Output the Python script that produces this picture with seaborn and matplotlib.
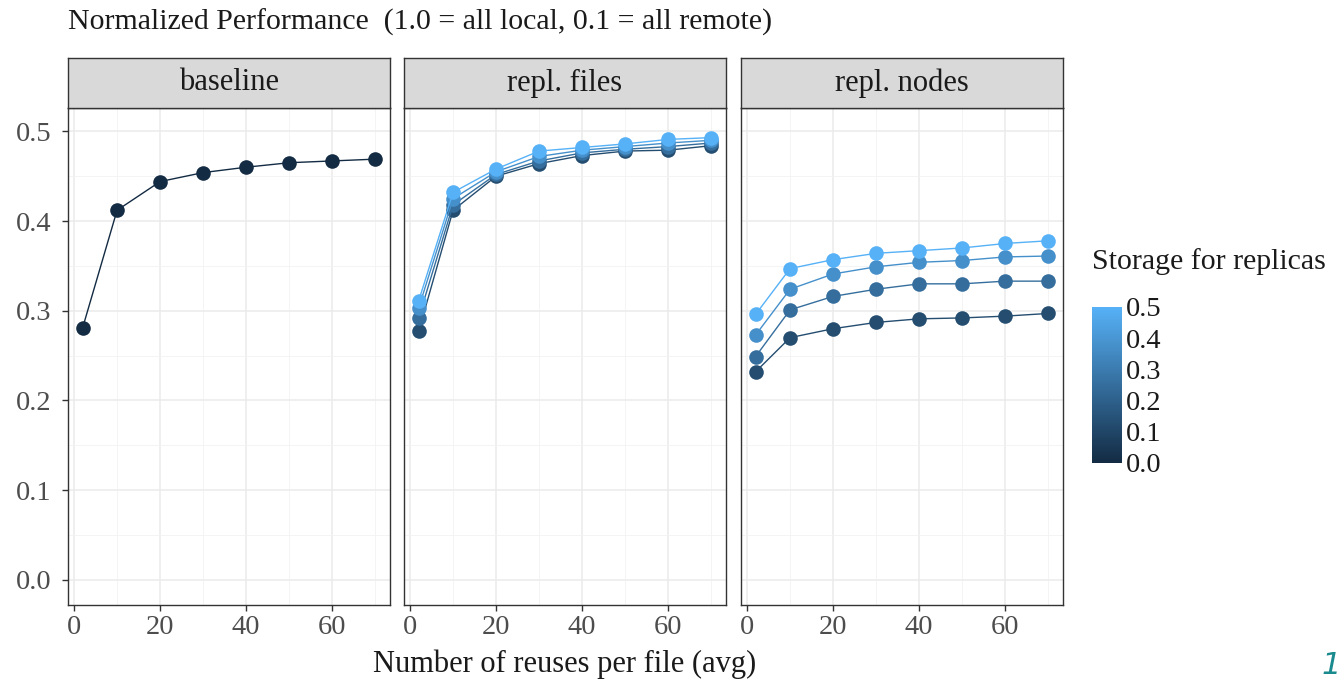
import numpy as np
import pandas as pd
import matplotlib
matplotlib.use('Agg')
import matplotlib.pyplot as plt
import seaborn as sns
from matplotlib.colors import LinearSegmentedColormap, Normalize
from matplotlib.ticker import MultipleLocator

# data
reuses = [2, 10, 20, 30, 40, 50, 60, 70]
panels = ['baseline', 'repl. files', 'repl. nodes']
storage_levels = [0.125, 0.25, 0.375, 0.5]

baseline = [0.281, 0.412, 0.444, 0.454, 0.460, 0.465, 0.467, 0.469]

files_s1 = [0.277, 0.412, 0.450, 0.464, 0.473, 0.478, 0.479, 0.484]
files_s2 = [0.292, 0.418, 0.452, 0.467, 0.476, 0.480, 0.483, 0.487]
files_s3 = [0.303, 0.425, 0.455, 0.472, 0.479, 0.483, 0.487, 0.490]
files_s4 = [0.311, 0.432, 0.458, 0.478, 0.482, 0.486, 0.491, 0.493]

nodes_s1 = [0.232, 0.270, 0.280, 0.287, 0.291, 0.292, 0.294, 0.297]
nodes_s2 = [0.249, 0.301, 0.316, 0.324, 0.330, 0.330, 0.333, 0.333]
nodes_s3 = [0.273, 0.324, 0.341, 0.349, 0.354, 0.356, 0.360, 0.361]
nodes_s4 = [0.296, 0.347, 0.357, 0.364, 0.367, 0.370, 0.375, 0.378]

rows = []
for x, y in zip(reuses, baseline):
    rows.append(('baseline', 0.0, x, y))
for s, ys in zip(storage_levels, [files_s1, files_s2, files_s3, files_s4]):
    for x, y in zip(reuses, ys):
        rows.append(('repl. files', s, x, y))
for s, ys in zip(storage_levels, [nodes_s1, nodes_s2, nodes_s3, nodes_s4]):
    for x, y in zip(reuses, ys):
        rows.append(('repl. nodes', s, x, y))
df = pd.DataFrame(rows, columns=['panel', 'storage', 'reuses', 'perf'])

sns.set_style('white')
plt.rcParams['font.family'] = ['Liberation Serif', 'DejaVu Serif']

cmap = LinearSegmentedColormap.from_list('gg', ['#132B43', '#56B1F7'])
norm = Normalize(0, 0.5)

W, H = 1342, 683
fig = plt.figure(figsize=(W / 100, H / 100), dpi=100)

lefts = [68, 404, 741]
pw = 322
ptop, pbot, stop = 108, 605, 58

for i, (name, left) in enumerate(zip(panels, lefts)):
    ax = fig.add_axes([left / W, 1 - pbot / H, pw / W, (pbot - ptop) / H])
    sub = df[df['panel'] == name]
    sns.lineplot(data=sub, x='reuses', y='perf', hue='storage', palette=cmap,
                 hue_norm=(0, 0.5), marker='o', markersize=10.5, markeredgewidth=0,
                 linewidth=1.0, legend=False, ax=ax, zorder=3)
    ax.set_xlim(-1.4, 73.4)
    ax.set_ylim(-0.028, 0.526)
    ax.xaxis.set_major_locator(MultipleLocator(20))
    ax.xaxis.set_minor_locator(MultipleLocator(10))
    ax.yaxis.set_major_locator(MultipleLocator(0.1))
    ax.yaxis.set_minor_locator(MultipleLocator(0.05))
    ax.grid(which='major', color='#EBEBEB', linewidth=1.1)
    ax.grid(which='minor', color='#F2F2F2', linewidth=0.6)
    ax.set_axisbelow(True)
    for sp in ax.spines.values():
        sp.set_color('#333333')
        sp.set_linewidth(1.0)
    ax.tick_params(which='major', length=4, width=1, color='#333333',
                   labelsize=20.5, labelcolor='#4D4D4D', bottom=True, left=(i == 0))
    ax.tick_params(axis='y', pad=8)
    ax.tick_params(which='minor', length=0)
    ax.set_xticks([0, 20, 40, 60])
    ax.set_xticklabels(['0', '20', '40', '60'])
    if i == 0:
        ax.set_yticks([0.0, 0.1, 0.2, 0.3, 0.4, 0.5])
        ax.set_yticklabels(['0.0', '0.1', '0.2', '0.3', '0.4', '0.5'])
    else:
        ax.set_yticklabels([])
    ax.set_xlabel('')
    ax.set_ylabel('')

    # facet strip
    sax = fig.add_axes([left / W, 1 - ptop / H, pw / W, (ptop - stop) / H])
    sax.set_facecolor('#D9D9D9')
    sax.set_xticks([])
    sax.set_yticks([])
    for sp in sax.spines.values():
        sp.set_color('#333333')
        sp.set_linewidth(1.0)
    sax.text(0.5, 0.5, name, ha='center', va='center', fontsize=22,
             color='#1A1A1A', transform=sax.transAxes)

fig.text(68 / W, 1 - 22 / H, 'Normalized Performance  (1.0 = all local, 0.1 = all remote)',
         ha='left', va='center', fontsize=21.5, color='#1A1A1A')
fig.text(565 / W, 1 - 664 / H, 'Number of reuses per file (avg)',
         ha='center', va='center', fontsize=22, color='#1A1A1A')

# colour bar legend
fig.text(1092 / W, 1 - 262 / H, 'Storage for replicas', ha='left', va='center',
         fontsize=21.5, color='#1A1A1A')
cax = fig.add_axes([1092 / W, 1 - 463 / H, 30 / W, 156 / H])
sm = plt.cm.ScalarMappable(norm=norm, cmap=cmap)
cb = fig.colorbar(sm, cax=cax, ticks=[0.0, 0.1, 0.2, 0.3, 0.4, 0.5])
cb.outline.set_visible(False)
cb.ax.tick_params(length=5, width=1, color='white', direction='in',
                  left=True, right=True, labelsize=20.5, labelcolor='#1A1A1A', pad=3)
cb.ax.set_yticklabels(['0.0', '0.1', '0.2', '0.3', '0.4', '0.5'])

# slide number
fig.text(1322 / W, 1 - 666 / H, '1', ha='left', va='center', fontsize=22,
         style='italic', color='#1B8A8F', family=['DejaVu Sans'])

fig.savefig('out.png', dpi=100)
